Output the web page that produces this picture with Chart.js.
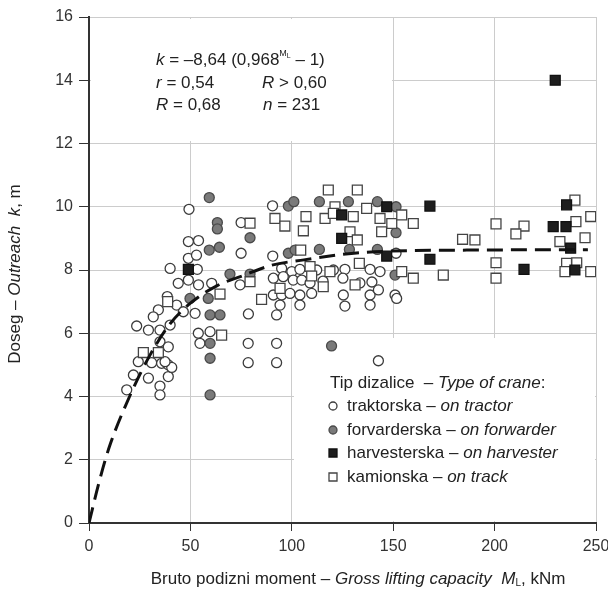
<!DOCTYPE html>
<html>
<head>
<meta charset="utf-8">
<script src="https://cdn.jsdelivr.net/npm/chart.js@4.4.1/dist/chart.umd.min.js"></script>
<style>
  body { margin: 0; background: #fff; }
  #wrap { width: 608px; height: 592px; }
</style>
</head>
<body>
<div id="wrap"><canvas id="craneChart" width="608" height="592"></canvas></div>
<script>
// podaci ocitani sa slike: [M_L (kNm), k (m)]
const traktorska = [
  [49.3, 9.92], [75, 9.5], [90.5, 10.03], [49, 8.9], [54, 8.93], [75, 8.53], [90.6, 8.44],
  [49, 8.37], [53, 8.47], [40, 8.05], [53.4, 8.02], [44, 7.58], [49, 7.68], [54, 7.53],
  [60.5, 7.58], [74.5, 7.53], [34.2, 6.74], [31.7, 6.52], [43.2, 6.89], [46.5, 6.68],
  [52.3, 6.63], [78.6, 6.61], [92.5, 6.58], [23.5, 6.23], [29.3, 6.1], [35, 6.1], [40, 6.26],
  [53.9, 6.0], [59.7, 6.05], [35, 5.73], [39.1, 5.57], [54.7, 5.68], [78.5, 5.68], [92.5, 5.68],
  [24.3, 5.1], [30.9, 5.07], [35.8, 5.05], [39.1, 5.0], [78.5, 5.07], [92.5, 5.07],
  [21.9, 4.68], [29.3, 4.58], [39.1, 4.63], [18.6, 4.21], [35, 4.33], [35, 4.05], [40.8, 4.92],
  [37.5, 5.1], [38.6, 7.16], [95, 8.05], [100, 7.95], [104, 8.02], [112.3, 8.0], [120.5, 8.0],
  [126.2, 8.02], [138.6, 8.02], [143.5, 7.95], [151.4, 8.53], [90.9, 7.74], [95.8, 7.79],
  [100.7, 7.68], [104.9, 7.68], [109, 7.59], [115.4, 7.65], [125.2, 7.74], [133.6, 7.59],
  [139.5, 7.62], [90.9, 7.21], [95, 7.21], [99.1, 7.26], [104, 7.21], [109.8, 7.26], [125.4, 7.21],
  [138.6, 7.21], [142.7, 7.37], [150.9, 7.21], [151.7, 7.1], [94.2, 6.89], [104, 6.89],
  [126.2, 6.86], [138.6, 6.89], [142.7, 5.13]
];
const forvarderska = [
  [59.3, 10.29], [63.3, 9.5], [63.3, 9.3], [79.4, 9.02], [59.3, 8.63], [64.3, 8.72], [69.5, 7.87],
  [79.4, 7.87], [49.8, 7.1], [58.8, 7.1], [59.7, 6.58], [64.6, 6.58], [59.7, 5.68], [59.7, 5.21],
  [59.7, 4.05], [98.3, 10.02], [101, 10.16], [113.6, 10.16], [127.9, 10.16], [142.2, 10.16],
  [151.4, 10.0], [151.4, 9.18], [98.3, 8.53], [101.6, 8.63], [113.6, 8.65], [128.4, 8.65],
  [142.2, 8.65], [150.9, 7.84], [119.6, 5.6]
];
const harvesterska = [
  [49, 8.02], [124.6, 9.74], [124.6, 9.0], [146.8, 10.0], [168.1, 10.02], [146.8, 8.44],
  [168.1, 8.34], [235.5, 10.06], [228.9, 9.37], [235.2, 9.37], [237.5, 8.69], [214.5, 8.02],
  [239.6, 8.0], [229.9, 14.0]
];
const kamionska = [
  [79.4, 9.48], [91.7, 9.63], [79.4, 7.63], [64.6, 7.24], [85.1, 7.07], [65.4, 5.94], [26.8, 5.39],
  [34.2, 5.39], [38.8, 7.0], [118, 10.53], [132.3, 10.53], [121.3, 10.0], [136.9, 9.95],
  [96.6, 9.39], [107, 9.69], [105.7, 9.24], [116.4, 9.63], [120.5, 9.79], [130.3, 9.69],
  [143.5, 9.63], [149.3, 9.47], [154.2, 9.74], [159.9, 9.47], [144.3, 9.21], [128.7, 9.21],
  [132.3, 8.95], [104.4, 8.63], [184.2, 8.97], [109, 8.11], [118.8, 7.95], [133.3, 8.21],
  [154.2, 7.95], [159.9, 7.74], [174.7, 7.84], [109.8, 7.81], [115.5, 7.47], [131.2, 7.53],
  [94.2, 7.42], [239.6, 10.21], [200.7, 9.46], [214.5, 9.39], [210.5, 9.14], [240.1, 9.53],
  [247.4, 9.69], [190.3, 8.95], [232.2, 8.9], [244.6, 9.02], [200.7, 8.23], [200.7, 7.74],
  [235.5, 8.21], [240.5, 8.23], [234.7, 7.95], [247.4, 7.95]
];
// isprekidana krivulja (ocitano)
const krivulja = [
  [0, 0], [5, 1.3], [10, 2.4], [20, 4.0], [30, 5.3], [40, 6.3], [50, 6.95], [63, 7.5],
  [75, 7.8], [90, 8.15], [106, 8.32], [134, 8.55], [188, 8.63], [246, 8.64]
];
const xTicks = [0, 50, 100, 150, 200, 250];
const yTicks = [0, 2, 4, 6, 8, 10, 12, 14, 16];
const nazivi = ['traktorska', 'forvarderska', 'harvesterska', 'kamionska'];
const naziviEn = ['on tractor', 'on forwarder', 'on harvester', 'on track'];

const FONT = '"Liberation Sans", Arial, sans-serif';
const TXT = '#222';

function toXY(arr) {
  return arr.map(p => ({ x: p[0], y: p[1] }));
}

// ispis teksta s mijesanim fontovima
function drawRich(ctx, parts, x, y, align) {
  let w = 0;
  parts.forEach(p => {
    ctx.font = (p.italic ? 'italic ' : '') + (p.size || 17) + 'px ' + FONT;
    p.w = ctx.measureText(p.t).width;
    w += p.w;
  });
  let cx = align === 'center' ? x - w / 2 : x;
  ctx.textAlign = 'left';
  ctx.textBaseline = 'middle';
  ctx.fillStyle = TXT;
  parts.forEach(p => {
    ctx.font = (p.italic ? 'italic ' : '') + (p.size || 17) + 'px ' + FONT;
    ctx.fillText(p.t, cx, y + (p.dy || 0));
    cx += p.w;
  });
}

const okviri = {
  id: 'okviri',
  beforeDatasetsDraw(chart) {
    const ctx = chart.ctx;
    ctx.save();
    ctx.fillStyle = '#fff';
    ctx.fillRect(91, 19, 301, 122);
    ctx.fillRect(294, 338, 301, 183);
    ctx.restore();
  }
};

const tekstovi = {
  id: 'tekstovi',
  afterDatasetsDraw(chart) {
    const ctx = chart.ctx;
    ctx.save();
    // jednadzba
    drawRich(ctx, [
      { t: 'k', italic: true }, { t: ' = –8,64 (0,968' },
      { t: 'M', size: 9, dy: -6 }, { t: 'L', size: 7, dy: -4 }, { t: ' – 1)' }
    ], 156, 60);
    drawRich(ctx, [{ t: 'r', italic: true }, { t: ' = 0,54' }], 156, 83);
    drawRich(ctx, [{ t: 'R', italic: true }, { t: ' > 0,60' }], 262, 83);
    drawRich(ctx, [{ t: 'R', italic: true }, { t: ' = 0,68' }], 156, 105);
    drawRich(ctx, [{ t: 'n', italic: true }, { t: ' = 231' }], 263, 105);

    // legenda
    drawRich(ctx, [{ t: 'Tip dizalice  – ' }, { t: 'Type of crane', italic: true }, { t: ':' }], 330, 383);
    const ys = [406, 430, 453, 477];
    const ds = chart.data.datasets;
    ys.forEach((y, i) => {
      const d = ds[i];
      ctx.fillStyle = d.backgroundColor;
      ctx.strokeStyle = d.borderColor;
      ctx.lineWidth = 1.3;
      ctx.beginPath();
      if (d.pointStyle === 'circle') ctx.arc(333, y, 4, 0, Math.PI * 2);
      else ctx.rect(329, y - 4, 8, 8);
      ctx.fill();
      ctx.stroke();
      drawRich(ctx, [{ t: nazivi[i] + ' – ' }, { t: naziviEn[i], italic: true }], 347, y);
    });

    // naslovi osi
    drawRich(ctx, [
      { t: 'Bruto podizni moment – ' }, { t: 'Gross lifting capacity  ', italic: true },
      { t: 'M', italic: true }, { t: 'L', size: 10, dy: 4 }, { t: ', kNm' }
    ], 358, 579, 'center');
    ctx.translate(15, 274);
    ctx.rotate(-Math.PI / 2);
    drawRich(ctx, [{ t: 'Doseg – ' }, { t: 'Outreach  k', italic: true }, { t: ', m' }], 0, 0, 'center');
    ctx.restore();
  }
};

const ctx = document.getElementById('craneChart').getContext('2d');
window.craneChart = new Chart(ctx, {
  type: 'scatter',
  data: {
    datasets: [
      {
        label: nazivi[0], data: toXY(traktorska), pointStyle: 'circle', pointRadius: 5,
        backgroundColor: '#ffffff', borderColor: '#3c3c3c', borderWidth: 1.3, order: 4
      },
      {
        label: nazivi[1], data: toXY(forvarderska), pointStyle: 'circle', pointRadius: 5,
        backgroundColor: '#7a7a7a', borderColor: '#4a4a4a', borderWidth: 1.3, order: 3
      },
      {
        label: nazivi[2], data: toXY(harvesterska), pointStyle: 'rect', pointRadius: 7,
        backgroundColor: '#1e1e1e', borderColor: '#111111', borderWidth: 1.3, order: 1
      },
      {
        label: nazivi[3], data: toXY(kamionska), pointStyle: 'rect', pointRadius: 7,
        backgroundColor: '#ffffff', borderColor: '#444444', borderWidth: 1.3, order: 2
      },
      {
        type: 'line', label: 'k', data: toXY(krivulja), showLine: true, pointRadius: 0,
        borderColor: '#111', borderWidth: 3, borderDash: [16, 8],
        cubicInterpolationMode: 'monotone', fill: false, order: 0
      }
    ]
  },
  options: {
    responsive: false,
    animation: false,
    layout: { padding: { top: 17, right: 12, left: 0, bottom: 0 } },
    plugins: { legend: { display: false }, tooltip: { enabled: false } },
    scales: {
      x: {
        type: 'linear', min: 0, max: 250,
        afterBuildTicks: s => { s.ticks = xTicks.map(v => ({ value: v })); },
        afterFit: s => { s.height = 69; s.paddingLeft = 0; s.paddingRight = 0; },
        ticks: { font: { family: FONT, size: 16 }, color: '#333', padding: 6 },
        grid: { color: '#cccccc', tickColor: '#333', tickLength: 8, lineWidth: 1 },
        border: { color: '#333', width: 2 }
      },
      y: {
        min: 0, max: 16,
        afterBuildTicks: s => { s.ticks = yTicks.map(v => ({ value: v })); },
        afterFit: s => { s.width = 89; s.paddingTop = 0; s.paddingBottom = 0; },
        ticks: { font: { family: FONT, size: 16 }, color: '#333', padding: 6 },
        grid: { color: '#cccccc', tickColor: '#333', tickLength: 10, lineWidth: 1 },
        border: { color: '#333', width: 2 }
      }
    }
  },
  plugins: [okviri, tekstovi]
});
</script>
</body>
</html>
